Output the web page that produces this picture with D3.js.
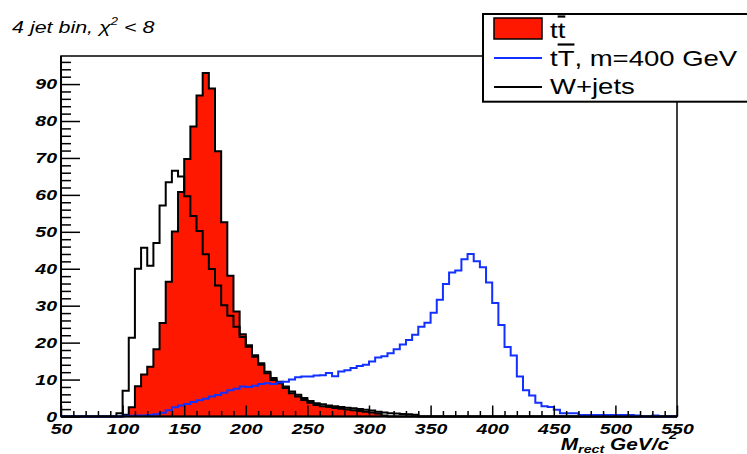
<!DOCTYPE html>
<html>
<head>
<meta charset="utf-8">
<script src="https://cdn.jsdelivr.net/npm/d3@7"></script>
<style>
  html, body { margin: 0; padding: 0; background: #fff; }
  svg { display: block; }
  text { font-family: "Liberation Sans", Arial, Helvetica, sans-serif; }
</style>
</head>
<body>
<svg id="chart" width="747" height="454"></svg>
<script>
// ---------------- data ----------------
const xDomain = [50, 550];
const binWidth = 5;
const binLow = d3.range(50, 550, binWidth); // 100 bins of 5 GeV

const yMajorTicks = [0, 10, 20, 30, 40, 50, 60, 70, 80, 90];
const xMajorTicks = [50, 100, 150, 200, 250, 300, 350, 400, 450, 500, 550];

const seriesNames = ["tt\u0304", "tT\u0304, m=400 GeV", "W+jets"];

// t tbar (red filled)
const ttbar = [
  0,0,0,0,0,0,0,0,0,0,
  0.5,2.5,8.2,11.4,13.5,18.2,25.3,36.5,50.1,60.8,
  69.7,78.5,86.9,93.0,88.8,71.8,52.6,38.1,28.4,22.3,
  18.9,16.2,14.0,11.7,9.9,9.0,7.7,6.3,5.4,4.5,
  3.7,3.1,2.8,2.6,2.3,2.1,1.9,1.7,1.5,1.3,
  1.1,0.8,0.3,0,0,0,0,0,0,0,
  0,0,0,0,0,0,0,0,0,0,
  0,0,0,0,0,0,0,0,0,0,
  0,0,0,0,0,0,0,0,0,0,
  0,0,0,0,0,0,0,0,0,0
];

// t'tbar', m = 400 GeV (blue line)
const tprime = [
  0,0,0,0,0,0,0,0,0,0,
  0.2,0.2,0.3,0.3,0.4,0.6,1.0,1.7,2.5,3.0,
  3.4,3.9,4.4,4.8,5.4,5.8,6.4,7.1,7.5,8.1,
  8.0,8.3,8.8,9.0,8.8,9.2,9.4,10.0,10.6,10.8,
  10.8,11.1,11.2,11.8,10.9,12.2,12.5,13.1,13.7,14.0,
  14.9,16.0,16.3,17.1,18.2,19.5,20.7,22.1,24.3,25.4,
  28.1,31.6,35.9,39.0,39.5,42.6,44.0,42.0,40.4,36.3,
  30.7,24.8,18.8,16.5,10.8,7.1,5.7,3.7,2.8,2.6,
  1.8,0.9,0.9,0.9,0.4,0.4,0.4,0.4,0.4,0.4,
  0.4,0.4,0.4,0.3,0,0,0.3,0,0,0
];

// W+jets (black line)
const wjets = [
  0,0,0,0,0,0,0,0,0,0.9,
  7.0,21.3,40.0,45.7,40.8,47.0,57.1,63.4,66.5,65.0,
  59.6,54.3,50.2,43.9,39.9,35.5,30.1,27.3,24.3,21.5,
  19.3,16.6,14.4,12.1,10.4,9.4,8.1,6.8,5.9,5.0,
  4.2,3.6,3.3,3.0,2.8,2.6,2.4,2.2,2.0,1.8,
  1.6,1.3,1.1,0.9,0.8,0.7,0.6,0.5,0,0,
  0,0,0,0,0,0,0,0,0,0,
  0,0,0,0,0,0,0,0,0,0,
  0,0,0,0,0,0,0,0,0,0,
  0,0,0,0,0,0,0,0,0,0
];

// ---------------- chart ----------------
const svg = d3.select("#chart");
const frame = { left: 61, right: 677, top: 56, bottom: 416.5 };

const x = d3.scaleLinear().domain(xDomain).range([frame.left, frame.right]);
const y = d3.scaleLinear().domain([0, 97.6]).range([frame.bottom, frame.top]);

const RED = "#ff1800", BLUE = "#1230ff";
const TX = 1.3;   // horizontal stretch of the reference's lettering
const TXL = 1.25; // legend lettering stretch

function stepPoints(vals) {
  const pts = binLow.map((lo, i) => [lo, vals[i]]);
  pts.push([xDomain[1], vals[vals.length - 1]]);
  return pts;
}

const line = d3.line().x(d => x(d[0])).y(d => y(d[1])).curve(d3.curveStepAfter);
const area = d3.area().x(d => x(d[0])).y0(y(0)).y1(d => y(d[1])).curve(d3.curveStepAfter);

const plot = svg.append("g");
plot.append("path").datum(stepPoints(ttbar)).attr("d", area).attr("fill", RED);
plot.append("path").datum(stepPoints(ttbar)).attr("d", line)
  .attr("fill", "none").attr("stroke", "#000").attr("stroke-width", 2);
plot.append("path").datum(stepPoints(wjets)).attr("d", line)
  .attr("fill", "none").attr("stroke", "#000").attr("stroke-width", 2);
plot.append("path").datum(stepPoints(tprime)).attr("d", line)
  .attr("fill", "none").attr("stroke", BLUE).attr("stroke-width", 2);

// frame
svg.append("rect")
  .attr("x", frame.left).attr("y", frame.top)
  .attr("width", frame.right - frame.left).attr("height", frame.bottom - frame.top)
  .attr("fill", "none").attr("stroke", "#000").attr("stroke-width", 1.5);

// minor ticks
const yMinor = d3.range(0, 97.6, 2).filter(v => v % 10 !== 0);
svg.append("g").attr("transform", `translate(${frame.left},0)`)
  .call(d3.axisLeft(y).tickValues(yMinor).tickSize(-10).tickFormat(""))
  .call(g => g.select(".domain").remove())
  .selectAll("line").attr("stroke-width", 1.5);
const xMinor = d3.range(50, 551, 10).filter(v => v % 50 !== 0);
svg.append("g").attr("transform", `translate(0,${frame.bottom})`)
  .call(d3.axisBottom(x).tickValues(xMinor).tickSize(-5.5).tickFormat(""))
  .call(g => g.select(".domain").remove())
  .selectAll("line").attr("stroke-width", 1.5);

// major ticks + labels
const yAxis = svg.append("g").attr("transform", `translate(${frame.left},0)`)
  .call(d3.axisLeft(y).tickValues(yMajorTicks).tickSize(-19).tickPadding(4))
  .call(g => g.select(".domain").attr("stroke-width", 2).attr("d", `M0,${frame.top}V${frame.bottom}`));
yAxis.selectAll("line").attr("stroke-width", 1.5);
yAxis.selectAll("text")
  .attr("x", -3.1)
  .attr("transform", `scale(${TX},1)`)
  .style("font-size", "15px").style("font-weight", "bold").style("font-style", "italic")
  .attr("fill", "#000");

const xAxis = svg.append("g").attr("transform", `translate(0,${frame.bottom})`)
  .call(d3.axisBottom(x).tickValues(xMajorTicks).tickSize(-11).tickPadding(6.5))
  .call(g => g.select(".domain").attr("stroke-width", 2).attr("d", `M${frame.left},0H${frame.right}`));
xAxis.selectAll("line").attr("stroke-width", 1.5);
xAxis.selectAll("text")
  .attr("x", 0).attr("transform", `scale(${TX},1)`)
  .style("font-size", "15px").style("font-weight", "bold").style("font-style", "italic")
  .attr("fill", "#000");

// axis title
const xt = svg.append("text")
  .attr("transform", `translate(${frame.right},450) scale(${TX},1)`)
  .attr("text-anchor", "end")
  .style("font-size", "16px").style("font-weight", "bold").style("font-style", "italic");
xt.append("tspan").text("M");
xt.append("tspan").attr("dy", 3).style("font-size", "11px").text("rect");
xt.append("tspan").attr("dy", -3).text(" GeV/c");
xt.append("tspan").attr("dy", -11).style("font-size", "11px").text("2");

// title
const tt = svg.append("text")
  .attr("transform", `translate(12,33) scale(${TX},1)`)
  .style("font-size", "16.5px").style("font-style", "italic");
tt.append("tspan").text("4 jet bin, \u03c7");
tt.append("tspan").attr("dy", -8).style("font-size", "10px").text("2");
tt.append("tspan").attr("dy", 8).text(" < 8");

// legend
const lg = svg.append("g");
lg.append("rect").attr("x", 483).attr("y", 14).attr("width", 300).attr("height", 87.7)
  .attr("fill", "#fff").attr("stroke", "#000").attr("stroke-width", 2);
lg.append("rect").attr("x", 494).attr("y", 18).attr("width", 48).attr("height", 21)
  .attr("fill", RED).attr("stroke", "#000").attr("stroke-width", 1.5);
lg.append("line").attr("x1", 494).attr("x2", 542).attr("y1", 58).attr("y2", 58)
  .attr("stroke", BLUE).attr("stroke-width", 2);
lg.append("line").attr("x1", 494).attr("x2", 542).attr("y1", 87).attr("y2", 87)
  .attr("stroke", "#000").attr("stroke-width", 2);

function legendText(yBase, parts) {
  const t = lg.append("text")
    .attr("transform", `translate(550,${yBase}) scale(${TXL},1)`)
    .style("font-size", "22px");
  parts.forEach(p => {
    const s = t.append("tspan").text(p.s);
    if (p.bar) s.style("text-decoration", "overline");
  });
}
legendText(37.5, [{ s: "t" }, { s: "t", bar: true }]);
legendText(65.5, [{ s: "t" }, { s: "T", bar: true }, { s: ", m=400 GeV" }]);
legendText(93.5, [{ s: seriesNames[2] }]);
</script>
</body>
</html>
